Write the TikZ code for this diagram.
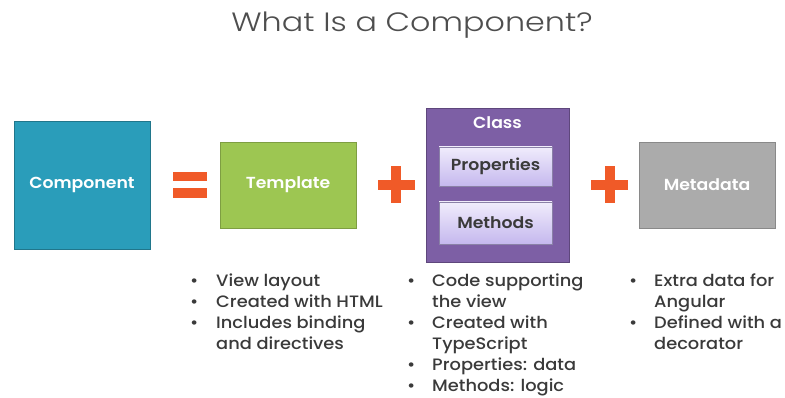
\documentclass[tikz,border=0pt]{standalone}
\usepackage{fontspec}
\setmainfont{Poppins}
\newfontfamily\medfont{Poppins}[UprightFont=*-Medium, FakeStretch=1.08]
\newfontfamily\boldlabel{Poppins}[UprightFont=*-SemiBold, FakeStretch=1.08]
\newfontfamily\lightfont{Poppins}[UprightFont=*-Light, FakeStretch=1.2]
\usetikzlibrary{positioning,shadows}

\definecolor{compblue}{HTML}{2A9DBA}
\definecolor{tmplgreen}{HTML}{9DC652}
\definecolor{classpurple}{HTML}{7D5FA5}
\definecolor{metagray}{HTML}{ABABAB}
\definecolor{opcolor}{HTML}{F05A28}
\definecolor{txtgray}{HTML}{3A3A3A}
\definecolor{memtop}{HTML}{F0ECFC}
\definecolor{membottom}{HTML}{C5B8EE}

\tikzset{
  part/.style={draw, line width=0.8pt, text=white, font=\boldlabel\fontsize{16}{19}\selectfont},
  member/.style={draw=membottom!70!black, line width=0.4pt, top color=memtop,
    bottom color=membottom, drop shadow={opacity=0.35, shadow xshift=1pt, shadow yshift=-1.5pt},
    minimum width=113pt, text=txtgray, font=\boldlabel\fontsize{16}{19}\selectfont},
  notes/.style={anchor=north west, inner sep=0pt, text=txtgray, font=\medfont\fontsize{16.5}{21}\selectfont}
}

\begin{document}
\begin{tikzpicture}[x=1pt, y=-1pt]
\useasboundingbox (0,0) rectangle (785,398);

\node[text=txtgray!90, font=\lightfont\fontsize{26.5}{31}\selectfont] (title) at (412, 25) {What Is a Component?};

\node[part, fill=compblue, draw=compblue!75!black, minimum width=136pt, minimum height=128pt] (comp) at (82, 185) {Component};
\node[part, fill=tmplgreen, draw=tmplgreen!80!black, minimum width=136pt, minimum height=86pt] (tmpl) at (288, 185) {Template};
\node[part, fill=classpurple, draw=classpurple!75!black, minimum width=143pt, minimum height=154pt] (class) at (497.5, 185) {};
\node[text=white, font=\boldlabel\fontsize{16}{19}\selectfont] (classlabel) at (497.5, 123) {Class};
\node[member, minimum height=39pt] (props) at (495.5, 166.5) {Properties};
\node[member, minimum height=42pt] (meths) at (495.5, 223) {Methods};
\node[part, fill=metagray, draw=metagray!80!black, minimum width=136pt, minimum height=86pt] (meta) at (707, 185) {Metadata};

% equals and plus signs
\fill[opcolor] (173,172) rectangle (207,181);
\fill[opcolor] (173,188) rectangle (207,198);
\foreach \px in {396, 609.5} {
  \fill[opcolor] (\px-18.5,180) rectangle (\px+18.5,190);
  \fill[opcolor] (\px-5,166.5) rectangle (\px+5,203.5);
}

% bullet lists
\node[notes] (tmplnotes) at (190, 272) {\begin{tabular}{@{}p{26pt}@{}l@{}}
\textbullet & View layout\\
\textbullet & Created with HTML\\
\textbullet & Includes binding\\
 & and directives
\end{tabular}};
\node[notes] (classnotes) at (407, 272) {\begin{tabular}{@{}p{25pt}@{}l@{}}
\textbullet & Code supporting\\
 & the view\\
\textbullet & Created with\\
 & TypeScript\\
\textbullet & Properties: data\\
\textbullet & Methods: logic
\end{tabular}};
\node[notes] (metanotes) at (629, 272) {\begin{tabular}{@{}p{25pt}@{}l@{}}
\textbullet & Extra data for\\
 & Angular\\
\textbullet & Defined with a\\
 & decorator
\end{tabular}};
\end{tikzpicture}
\end{document}
